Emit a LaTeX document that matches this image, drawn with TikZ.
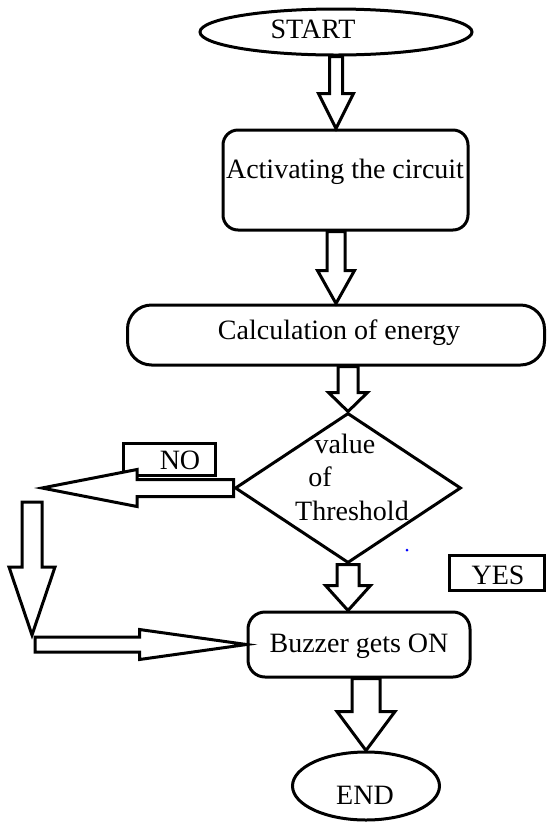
\documentclass[tikz,border=0pt]{standalone}
\usepackage{fontspec}
\setmainfont{Liberation Serif}
\usetikzlibrary{shapes.geometric}
\usetikzlibrary{calc}

\newcommand{\blockarrow}[5]{%
  \coordinate (ba-a) at (#1);
  \coordinate (ba-b) at (#2);
  \coordinate (ba-c) at ($(ba-b)!#5!(ba-a)$);
  \draw[arrowline] ($(ba-a)!#3!90:(ba-b)$) -- ($(ba-c)!#3!90:(ba-b)$)
     -- ($(ba-c)!#4!90:(ba-b)$) -- (ba-b) -- ($(ba-c)!#4!-90:(ba-b)$)
     -- ($(ba-c)!#3!-90:(ba-b)$) -- ($(ba-a)!#3!-90:(ba-b)$) -- cycle;
}

\begin{document}
\begin{tikzpicture}[x=1pt,y=-1pt,
    chartbox/.style={draw,line width=3pt,inner sep=0pt},
    txt/.style={anchor=base,inner sep=0pt,font=\fontsize{28}{32}\selectfont},
    arrowline/.style={draw,line width=3pt,fill=white}]
      \useasboundingbox (0,0) rectangle (548,823);

      \node[chartbox,ellipse,minimum width=272,minimum height=46] (start) at (336,32) {};
      \node[chartbox,rounded corners=15pt,minimum width=245,minimum height=100] (act) at (345.5,180) {};
      \node[chartbox,rounded corners=24pt,minimum width=417,minimum height=60] (energy) at (336,335) {};
      \node[chartbox,diamond,minimum width=226,minimum height=150] (thresh) at (348,488) {};
      \node[chartbox,minimum width=92,minimum height=32] (nobox) at (169,459) {};
      \node[chartbox,minimum width=95,minimum height=35] (yesbox) at (497,572.5) {};
      \node[chartbox,rounded corners=17pt,minimum width=222,minimum height=65] (buzz) at (359,644.5) {};
      \node[chartbox,ellipse,minimum width=147,minimum height=68] (finish) at (366,786) {};

      \node[txt] (startlbl) at (313,38) {START};
      \node[txt] (actlbl) at (345,178) {Activating the circuit};
      \node[txt] (energylbl) at (339,339) {Calculation of energy};
      \node[txt] (valuelbl) at (345,453) {value};
      \node[txt] (oflbl) at (320,486) {of};
      \node[txt] (threshlbl) at (352,520) {Threshold};
      \node[txt] (nolbl) at (180,469) {NO};
      \node[txt] (yeslbl) at (498,584) {YES};
      \node[txt] (buzzlbl) at (359,652) {Buzzer gets ON};
      \node[txt] (endlbl) at (365,804) {END};

      \coordinate (noend) at (42,488);
      \coordinate (downtop) at (32,502);
      \coordinate (downend) at (32,635);
      \coordinate (rightstart) at (35,644.5);

      \blockarrow{start.south}{start.south|-act.north}{6.5pt}{17.5pt}{35pt}
      \blockarrow{energy.north|-act.south}{energy.north}{9pt}{18.5pt}{33pt}
      \blockarrow{thresh.north|-energy.south}{thresh.north}{10pt}{19.5pt}{19pt}
      \blockarrow{thresh.west}{noend}{8.5pt}{18.5pt}{95pt}
      \blockarrow{downtop}{downend}{10pt}{23pt}{68pt}
      \blockarrow{rightstart}{buzz.west}{7.5pt}{15pt}{107pt}
      \blockarrow{thresh.south}{thresh.south|-buzz.north}{11pt}{22.5pt}{25pt}
      \blockarrow{finish.north|-buzz.south}{finish.north}{14pt}{29pt}{39pt}

      \fill[blue] (407,550) circle (1.5pt);
\end{tikzpicture}
\end{document}
